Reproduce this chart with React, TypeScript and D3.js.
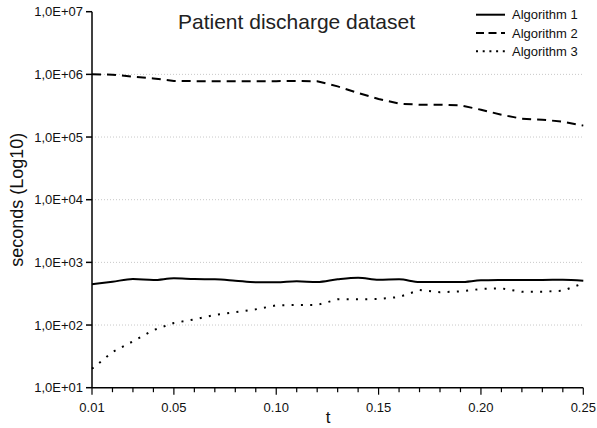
import React from "react";
import * as d3 from "d3";

const tValues = [0.01, 0.02, 0.03, 0.04, 0.05, 0.06, 0.07, 0.08, 0.09, 0.1, 0.11, 0.12, 0.13, 0.14, 0.15, 0.16, 0.17, 0.18, 0.19, 0.2, 0.21, 0.22, 0.23, 0.24, 0.25];
const alg1 = [447, 491, 542, 523, 557, 542, 537, 510, 481, 481, 499, 486, 537, 569, 529, 537, 486, 486, 486, 517, 523, 525, 525, 529, 510];
const alg2 = [1000000, 990000, 920000, 860000, 785000, 780000, 780000, 780000, 780000, 780000, 782000, 775000, 644000, 505000, 405000, 341000, 328000, 328000, 320000, 273000, 227000, 196000, 189000, 176000, 152000];
const alg3 = [20, 37, 55, 83, 108, 123, 145, 160, 178, 206, 209, 209, 257, 257, 260, 280, 362, 333, 345, 376, 385, 340, 340, 353, 464];
const seriesNames = ["Algorithm 1", "Algorithm 2", "Algorithm 3"];
const yTicks = [10, 100, 1000, 10000, 100000, 1000000, 10000000];
const yTickLabels = ["1,0E+01", "1,0E+02", "1,0E+03", "1,0E+04", "1,0E+05", "1,0E+06", "1,0E+07"];
const xMajor = [0.01, 0.05, 0.1, 0.15, 0.2, 0.25];
const xMajorLabels = ["0.01", "0.05", "0.10", "0.15", "0.20", "0.25"];
const title = "Patient discharge dataset";

const FONT = "'Liberation Sans', Arial, sans-serif";

export default function App() {
  const W = 597, H = 428;
  const x = d3.scaleLinear().domain([0.01, 0.25]).range([92, 583.3]);
  const y = d3.scaleLog().domain([10, 1e7]).range([387.7, 11.7]);
  const series = [alg1, alg2, alg3];
  const styles = [
    { dash: undefined as string | undefined, legendDash: undefined as string | undefined, curve: d3.curveMonotoneX },
    { dash: "9,6", legendDash: "8,4.5", curve: d3.curveLinear },
    { dash: "2,7.3", legendDash: "2,4.7", curve: d3.curveLinear },
  ];
  const x0 = x(0.01), x1 = x(0.25), yb = y(10), yt = y(1e7);
  return (
    <svg width={W} height={H} style={{ position: "absolute", left: 0, top: 0, background: "#fff" }} fontFamily={FONT}>
      {yTicks.filter(v => v > 10 && v < 1e7).map(v => (
        <line key={"g" + v} x1={x0} x2={x1} y1={y(v)} y2={y(v)} stroke="#c8c8c8" strokeWidth={1} strokeDasharray="1,2" />
      ))}
      {series.map((s, i) => {
        const line = d3.line<number>().x((_, j) => x(tValues[j])).y(d => y(d)).curve(styles[i].curve);
        return <path key={"s" + i} d={line(s) || ""} fill="none" stroke="#000" strokeWidth={2} strokeDasharray={styles[i].dash} strokeLinecap="butt" />;
      })}
      <line x1={x0} x2={x0} y1={yt} y2={yb} stroke="#000" strokeWidth={1.5} />
      <line x1={x0} x2={x1} y1={yb} y2={yb} stroke="#000" strokeWidth={1.5} />
      {yTicks.map((v, i) => (
        <g key={"yt" + v}>
          <line x1={x0 - 6} x2={x0} y1={y(v)} y2={y(v)} stroke="#000" strokeWidth={1.5} />
          <text x={x0 - 9} y={y(v) + 4.7} textAnchor="end" fontSize={13} fill="#111">{yTickLabels[i]}</text>
        </g>
      ))}
      {tValues.map(t => {
        const major = xMajor.some(m => Math.abs(m - t) < 1e-9);
        return <line key={"xt" + t} x1={x(t)} x2={x(t)} y1={yb} y2={yb + (major ? 7 : 4.5)} stroke="#000" strokeWidth={1.2} />;
      })}
      {xMajor.map((t, i) => (
        <text key={"xl" + t} x={x(t)} y={411.5} textAnchor="middle" fontSize={13} fill="#111">{xMajorLabels[i]}</text>
      ))}
      <text x={328} y={423} textAnchor="middle" fontSize={17} fill="#111">t</text>
      <text transform={`translate(23,${(yt + yb) / 2}) rotate(-90)`} textAnchor="middle" fontSize={18} fill="#111">seconds (Log10)</text>
      <text x={296.5} y={29.3} textAnchor="middle" fontSize={21} fill="#222">{title}</text>
      {seriesNames.map((n, i) => {
        const by = 19.3 + i * 18.3;
        return (
          <g key={"lg" + i}>
            <line x1={476} x2={505} y1={by - 4.6} y2={by - 4.6} stroke="#000" strokeWidth={2} strokeDasharray={styles[i].legendDash} />
            <text x={512} y={by} fontSize={13} fill="#111">{n}</text>
          </g>
        );
      })}
    </svg>
  );
}
